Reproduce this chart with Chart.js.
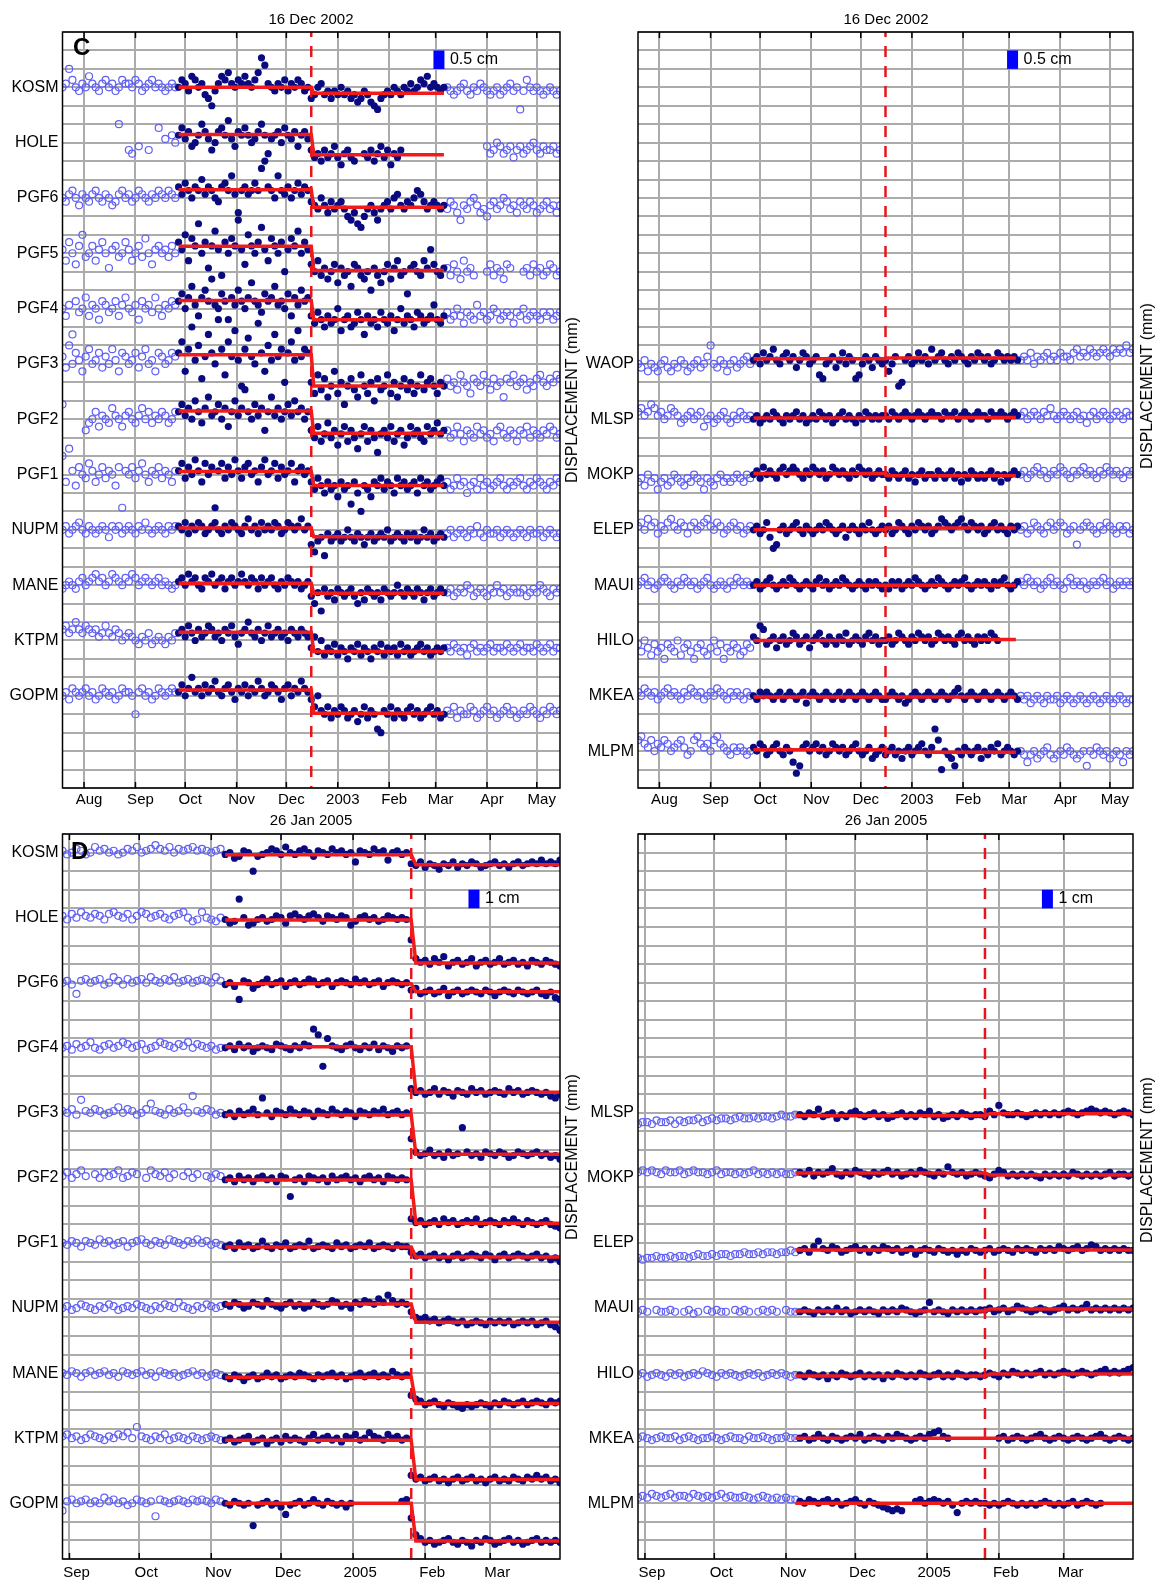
<!DOCTYPE html>
<html lang="en">
<head>
<meta charset="UTF-8"/>
<title>GPS displacement, 16 Dec 2002 and 26 Jan 2005</title>
<script src="https://cdn.jsdelivr.net/npm/chart.js"></script>
<style>
  body { margin: 0; background: #fff; font-family: "Liberation Sans", Arial, sans-serif; }
  #fig { position: relative; width: 1163px; height: 1584px; overflow: hidden; }
  canvas { position: absolute; }
  .txt { position: absolute; color: #000; white-space: nowrap; line-height: 1; }
  .ttl { font-size: 15px; transform: translateX(-50%); }
  .pnl { font-size: 24px; font-weight: bold; }
  .ylab { font-size: 16px; transform: translate(-50%, -50%) rotate(-90deg); }
</style>
</head>
<body>
<div id="fig">
  <canvas id="cl" width="580" height="812" style="left:0;top:0"></canvas>
  <canvas id="cr" width="593" height="812" style="left:570px;top:0"></canvas>
  <canvas id="dl" width="580" height="772" style="left:0;top:812px"></canvas>
  <canvas id="dr" width="593" height="772" style="left:570px;top:812px"></canvas>

  <div class="txt ttl" style="left:311px;top:11px">16 Dec 2002</div>
  <div class="txt ttl" style="left:886px;top:11px">16 Dec 2002</div>
  <div class="txt ttl" style="left:311px;top:812px">26 Jan 2005</div>
  <div class="txt ttl" style="left:886px;top:812px">26 Jan 2005</div>

  <div class="txt pnl" style="left:73px;top:35px">C</div>
  <div class="txt pnl" style="left:71px;top:839px">D</div>

  <div class="txt ylab" style="left:572px;top:400px">DISPLACEMENT (mm)</div>
  <div class="txt ylab" style="left:1147px;top:386px">DISPLACEMENT (mm)</div>
  <div class="txt ylab" style="left:572px;top:1157px">DISPLACEMENT (mm)</div>
  <div class="txt ylab" style="left:1147px;top:1160px">DISPLACEMENT (mm)</div>
</div>

<script>
  const FONT = '"Liberation Sans", Arial, sans-serif';
  const SAMPLE_DAYS = 2; // one value every 2 days, values in mm relative to the station's label

  // ---------- C: 16 Dec 2002 ----------
  const cStart = '2002-07-19';
  const cEnd = '2003-05-15';
  const cEvent = '2002-12-16';
  const cTickDates = ['2002-08-01', '2002-09-01', '2002-10-01', '2002-11-01', '2002-12-01',
    '2003-01-01', '2003-02-01', '2003-03-01', '2003-04-01', '2003-05-01'];
  const cTickLabels = ['Aug', 'Sep', 'Oct', 'Nov', 'Dec', '2003', 'Feb', 'Mar', 'Apr', 'May'];

  const clStations = ['KOSM', 'HOLE', 'PGF6', 'PGF5', 'PGF4', 'PGF3', 'PGF2', 'PGF1', 'NUPM', 'MANE', 'KTPM', 'GOPM'];
  const clBase = [0, -15, -30, -45, -60, -75, -90, -105, -120, -135, -150, -165];
  const clPre = [0, 2.2, 2.2, 1.9, 2.2, 2.5, 2.2, 0.8, 0.5, 0.5, 2.2, 1.6];
  const clPost = [-1.6, -3.3, -2.5, -4.7, -3.0, -6.0, -3.8, -3.0, -1.9, -2.2, -3.0, -4.7];

  const crStations = ['WAOP', 'MLSP', 'MOKP', 'ELEP', 'MAUI', 'HILO', 'MKEA', 'MLPM'];
  const crBase = [-75, -90, -105, -120, -135, -150, -165, -180];
  const crPre = [1.4, 0.3, 0.3, 0, 0, 0, -0.3, 0.4];
  const crPost = [1.6, 0.5, -0.3, 0.5, 0, 0.3, -0.3, -0.3];

  // each C series: 35 open (Jul 19-Sep 25), 40 campaign before event, 41 campaign after, 35 open (Mar 9-May 15)
  const clKOSM = [
    0,1,5,2,0,-1,1,0,3,1, 0,-1,1,2,0,1,-1,0,2,1, 1,0,2,1,-1,0,1,2,0,1, 0,-1,0,1,0,
    0,2,1,-1,3,2,0,1,-2,-3, -5,-1,1,3,2,4,1,0,2,1, 3,1,0,2,4,8,6,1,0,-1, 1,0,2,-1,1,0,2,1,-1,0,
    -3,-2,0,1,-2,-1,-3,-1,-2,0, -2,-1,-3,-2,-4,-3,-1,-2,-4,-5, -6,-3,-2,-1,-2,0,-1,-2,0,-1, 1,-1,0,2,1,3,0,1,0,-1,0,
    0,-1,-2,-1,0,1,-1,-2,0,-1, 1,0,-1,-2,-1,0,-2,-1,0,1, -1,0,-6,-1,2,0,-1,0,-1,-2, -1,0,-1,-2,-1
  ];
  const clHOLE = [
    null,null,null,null,null,null,null,null,null,null, null,null,null,null,null,null,null,5,null,null,
    -2,-3,null,-1,null,null,-2,null,null,4, null,1,null,2,0,
    2,4,1,3,-1,0,2,5,3,1, -2,0,3,4,2,6,1,-1,3,2, 4,2,0,1,3,5,2,-3,1,2, 3,0,4,2,1,3,-1,2,3,1,
    -2,-4,-3,-5,-2,-4,-3,-1,-4,-6, -3,-2,-4,-5,null,null,-3,-4,-2,-5, -3,-1,-4,-2,-6,-3,-4,-2,null,null,
    null,null,null,null,null,null,null,null,null,null,null,
    null,null,null,null,null,null,null,null,null,null,null,null,
    -1,-3,-2,0,-1,-3,-2,-1,-4,-2, -1,-3,-2,-1,0,-2,-3,-1,-2,-2, -1,-3,-2
  ];
  const clPGF6 = [
    0,-1,1,2,0,-2,1,0,-1,1, 2,0,-1,1,0,-2,-1,1,2,0, 1,-1,0,2,1,0,-1,1,0,2, 1,0,2,1,0,
    3,1,4,2,0,3,2,5,1,3, 2,0,-1,3,4,2,6,1,-4,2, 3,1,2,4,2,8,10,3,2,0, 6,2,1,3,0,2,4,1,3,2,
    -1,-2,-3,0,-2,-4,-1,-3,-2,-1, -3,-5,-6,-4,-7,-8,-5,-3,-2,-4, -6,-3,-2,-1,-3,0,1,-2,-3,-1, -2,0,2,1,-1,-3,-2,-1,-2,-3,-2,
    -3,-1,-2,-4,-6,-2,-3,-1,0,-2, -4,-3,-5,-2,-1,-3,-2,0,-1,-3, -2,-4,-1,-2,-3,-1,-2,-4,-3,-2, -1,-3,-2,-4,-2
  ];
  const clPGF5 = [
    1,-2,3,0,-3,2,5,-1,0,2, -2,1,3,0,-4,1,2,-1,0,3, 1,-2,0,2,-1,4,0,-3,1,2, 0,1,-1,2,0,
    3,1,5,-2,4,2,8,0,3,-4, 2,6,1,-6,3,0,4,2,9,1, -3,5,2,0,3,7,1,-2,4,2, 0,3,-5,1,4,2,6,0,3,1,
    -3,-5,-2,-6,-4,-7,-5,-3,-8,-4, -6,-5,-9,-3,-4,-6,-7,-5,-10,-4, -6,-8,-5,-3,-7,-4,-2,-6,-5,-11, -4,-3,-5,-6,-2,-4,1,-3,-5,-6,-4,
    -4,-6,-3,-5,-7,-2,-5,-4,-6,null, null,null,-5,-3,-6,-4,-5,-7,-3,-4, null,null,null,-5,-4,-6,-3,-5,-4,-6, -5,-3,-4,-6,-5
  ];
  const clPGF4 = [
    0,-2,1,-7,2,-1,0,3,-2,1, 0,-3,2,1,-1,0,2,-2,1,3, 0,-1,1,-3,2,0,1,-1,3,0, -2,1,0,2,1,
    2,4,0,3,6,1,-2,3,5,2, 8,1,0,4,2,-3,3,1,5,2, 0,3,7,2,1,-1,4,2,3,6, 1,2,0,4,-2,3,1,5,2,3,
    -2,-4,-1,-3,-5,-2,-4,-3,0,-6, -3,-2,-5,-4,-1,-3,-7,-2,-4,-3, -5,-1,-3,-4,-2,-6,-3,0,-4,-2, -3,-5,-1,-2,-4,-3,-2,1,-3,-4,-2,
    -1,-3,-2,0,-2,-4,-1,-2,-3,1, -2,-1,-3,-2,0,-1,-3,-2,-1,-2, -4,-1,-2,0,-3,-2,-1,-2,-3,-1, -2,-1,-3,-2,-1
  ];
  const clPGF3 = [
    2,-1,5,0,3,1,-2,2,4,0, 1,3,-1,2,0,4,1,-2,3,2, 0,1,3,-1,2,4,0,1,-2,3, 2,0,1,3,2,
    3,6,-2,4,10,1,5,-4,2,8, 3,0,12,4,-3,6,2,9,1,-6, 4,7,2,0,11,3,-2,5,1,8, 2,4,-5,3,6,1,9,2,4,3,
    -5,-8,-3,-7,-4,-9,-6,-2,-8,-5, -11,-6,-4,-7,-9,-3,-6,-8,-5,-10, -4,-7,-6,-3,-8,-5,-9,-6,-4,-7, -5,-8,-6,-3,-7,-5,-4,-6,-8,-5,-6,
    -4,-6,-5,-7,-3,-5,-6,-8,-4,-5, -6,-3,-5,-7,-4,-6,-5,-9,-4,-5, -3,-6,-5,-4,-7,-5,-6,-4,-3,-5, -6,-4,-5,-3,-4
  ];
  const clPGF2 = [
    4,null,null,null,null,null,null,-3,-1,0, 2,-2,1,0,-1,3,1,0,-2,1, 2,0,-1,1,3,0,2,-1,1,0, 2,1,-1,0,2,
    2,4,1,3,0,5,2,-1,3,6, 1,2,4,0,3,-2,2,5,1,3, 8,2,0,4,1,3,-3,2,6,1, 3,0,2,4,1,5,2,3,0,2,
    -3,-5,-2,-6,-4,-1,-5,-3,-7,-4, -2,-6,-3,-5,-8,-4,-2,-6,-3,-5, -9,-4,-3,-5,-2,-6,-4,-3,-7,-5, -2,-4,-3,-5,-6,-2,-4,-3,-1,-4,-3,
    -3,-5,-4,-2,-4,-6,-3,-4,-5,-2, -4,-3,-5,-4,-6,-3,-2,-4,-5,-3, -4,-6,-3,-4,-2,-5,-3,-4,-5,-3, -4,-2,-3,-5,-4
  ];
  const clPGF1 = [
    5,-2,7,1,-3,2,0,-1,3,1, -2,0,2,-1,1,0,-3,2,-9,1, 0,2,-1,1,3,0,-2,1,0,2, -1,1,0,-2,1,
    1,3,-1,2,0,4,1,-2,3,0, 2,-9,1,3,-1,2,0,4,1,-1, 2,3,0,1,-2,2,4,0,1,3, -1,2,0,1,3,-2,1,2,0,1,
    -2,-4,-1,-3,-5,-2,-4,-3,-6,-2, -4,-3,-8,-2,-5,-10,-3,-4,-6,-2, -3,-1,-4,-2,-3,-5,-1,-3,-2,-4, -3,-2,-5,-1,-3,-2,-4,-3,-2,-1,-3,
    -2,-4,-3,-1,-3,-2,-5,-3,-2,-4, -1,-3,-2,-4,-3,-2,-1,-3,-4,-2, -3,-2,-1,-3,-4,-2,-3,-1,-2,-3, -4,-2,-3,-1,-2
  ];
  const clNUPM = [
    0,1,-1,0,1,2,0,-1,1,0, -1,0,1,0,-2,1,0,1,-1,0, 1,0,-1,1,0,2,0,-1,0,1, 0,-1,1,0,1,
    1,0,2,-1,1,0,2,1,-1,0, 1,2,0,-1,1,0,2,1,0,-1, 1,3,0,1,-1,2,0,1,0,2, 1,-1,0,2,1,0,1,3,0,1,
    -4,-6,-3,-2,-7,-1,-3,-2,-1,-3, -2,0,-2,-3,-1,-2,-4,-2,-1,-3, -2,-1,-2,0,-3,-2,-1,-2,-3,-1, -2,-1,-3,-2,0,-2,-1,-3,-2,-1,-2,
    -1,0,-2,-1,0,-1,-2,0,-1,1, -1,-2,0,-1,-1,0,-2,-1,0,-1, -2,-1,0,-1,-2,0,-1,-1,0,-2, -1,0,-1,-2,-1
  ];
  const clMANE = [
    -1,0,1,0,-1,1,2,0,1,2, 3,1,2,0,1,3,2,1,0,2, 1,3,2,0,1,2,1,0,1,2, 0,1,0,-1,0,
    1,2,0,3,1,2,0,-1,2,1, 3,0,1,2,-1,1,2,0,1,3, 1,0,2,1,-1,2,0,1,2,0, -1,1,0,2,1,0,1,-1,0,1,
    -3,-5,-2,-7,-1,-3,-2,-4,-1,-2, -3,-2,-1,-3,-5,-2,-4,-1,-2,-3, -2,-4,-1,-2,-3,-2,0,-2,-3,-1, -2,-3,-1,-2,-4,-2,-1,-3,-2,-1,-2,
    -2,-1,-3,-2,-1,-2,0,-1,-3,-2, -1,-2,-3,-1,-2,0,-2,-1,-3,-2, -1,-2,-2,-1,-3,-2,-1,-2,0,-1, -2,-3,-1,-2,-1
  ];
  const clKTPM = [
    3,4,2,3,5,3,2,4,3,2, 3,1,2,4,2,1,3,2,0,1, 2,1,0,-1,1,0,2,-1,0,1, 0,-1,1,0,2,
    2,3,1,4,2,0,3,1,2,4, 3,1,2,0,3,2,4,1,-1,2, 3,5,2,1,3,0,2,4,1,2, 3,1,2,0,3,2,1,3,2,1,
    -2,1,-3,0,-4,-2,-3,-1,-4,-2, -3,-5,-2,-3,-1,-4,-2,-3,-5,-2, -3,-1,-4,-2,-3,-2,-4,-1,-3,-2, -4,-3,-2,-1,-3,-2,-4,-3,-2,-3,-2,
    -2,-3,-1,-2,-3,-2,-4,-2,-1,-3, -2,-3,-2,-1,-3,-2,-2,-3,-1,-2, -3,-2,-1,-3,-2,-2,-3,-1,-2,-3, -2,-1,-3,-2,-2
  ];
  const clGOPM = [
    0,1,-1,2,1,0,1,2,0,1, -1,0,2,1,0,1,-1,0,2,1, 1,0,-5,1,2,0,1,-1,0,2, 1,0,1,2,1,
    1,3,0,2,5,1,2,0,3,1, 2,4,1,0,2,3,1,-1,2,1, 3,0,2,1,4,2,0,1,3,2, 1,-1,2,3,0,2,1,4,2,1,
    -1,-3,0,-4,-5,-3,-6,-4,-5,-3, -4,-6,-5,-4,-7,-5,-3,-6,-4,-5, -9,-10,-4,-5,-3,-6,-4,-5,-6,-4, -3,-5,-4,-6,-5,-4,-3,-5,-4,-6,-5,
    -4,-5,-3,-6,-4,-5,-5,-3,-4,-6, -5,-4,-3,-5,-4,-6,-5,-4,-3,-5, -4,-6,-5,-4,-5,-3,-4,-5,-6,-4, -5,-3,-4,-5,-4
  ];

  const crWAOP = [
    0,-1,1,-2,0,-1,-2,0,1,-1, -2,0,-1,1,0,-2,-1,0,1,-1, 0,2,5,0,-1,1,0,-2,0,1, -1,0,1,2,0,
    1,2,0,3,1,2,4,1,0,2, 3,1,2,-1,1,3,2,0,1,2, -3,-4,0,1,2,-1,1,3,0,2, 1,-4,-3,0,2,1,-1,2,1,0,
    1,-2,0,2,-6,-5,1,2,0,1, 3,1,2,0,4,1,2,3,1,0, 2,1,3,2,1,0,2,1,3,2, 1,2,0,1,3,2,1,2,1,2,1,
    1,2,1,3,0,2,1,2,3,1, 2,1,3,2,2,1,3,4,2,3, 2,4,3,2,3,4,3,2,4,3, 4,3,5,3,4
  ];
  const crMLSP = [
    2,3,1,2,4,3,1,2,0,1, 3,2,1,-1,0,1,2,0,1,2, -2,0,1,-1,0,1,2,0,-1,1, 0,2,1,0,1,
    0,1,-1,0,1,0,2,1,0,-1, 1,0,1,2,0,1,-1,0,1,0, 2,1,0,1,-1,0,1,2,0,1, 0,-1,1,0,2,1,0,1,0,1,
    1,0,2,1,0,1,2,1,0,1, 2,1,0,1,2,1,1,0,2,1, 1,2,0,1,2,1,0,1,2,1, 1,0,2,1,1,2,1,0,1,2,1,
    1,2,0,1,2,1,0,2,1,3, 1,0,1,2,1,0,1,2,0,1, -1,1,2,0,1,2,1,0,1,2, 1,0,2,1,1
  ];
  const crMOKP = [
    -2,-1,-3,0,-2,-1,-4,-2,-1,-3, -2,0,-1,-2,-3,-1,-2,0,-1,-2, -4,-1,-2,-3,-1,0,-2,-1,-2,-1, 0,-1,-2,0,-1,
    0,1,-1,2,0,1,0,-1,1,2, 0,1,2,1,0,-1,1,0,2,1, 0,1,-1,0,2,1,0,1,0,-1, 1,0,2,1,0,1,-1,0,1,0,
    0,-1,1,0,-1,0,1,-1,0,-2, 0,1,-1,0,0,-1,1,0,-1,0, 1,-1,0,-2,0,-1,1,0,-1,0, -1,0,1,-1,0,-2,0,-1,0,1,0,
    0,1,-1,0,1,2,0,1,-1,0, 1,0,2,1,0,-1,1,0,1,2, 0,1,0,-1,1,0,2,1,0,1, 0,-1,1,0,1
  ];
  const crELEP = [
    1,2,0,3,1,2,-1,1,0,2, 3,1,0,2,1,-1,1,2,0,1, 2,3,1,0,2,1,-1,0,1,2, 0,1,-1,0,1,
    0,1,-1,0,2,-2,-5,-4,0,1, -1,0,1,2,0,-1,1,0,-1,0, 1,0,2,1,0,-1,0,1,-2,0, 1,0,-1,1,0,2,0,-1,0,1,
    0,1,-1,0,2,1,0,-1,1,0, 2,1,0,1,-1,0,1,3,2,1, 0,1,2,3,1,0,2,1,0,1, -1,0,1,2,0,1,0,-1,1,0,1,
    0,1,-1,0,2,1,0,-1,1,2, 0,1,2,1,-1,0,1,-4,0,1, 2,1,0,-1,1,0,2,1,0,-1, 1,0,1,-1,0
  ];
  const crMAUI = [
    0,1,2,0,1,-1,0,1,2,1, 0,-1,1,0,2,1,0,1,-1,0, 1,2,0,-1,0,1,0,-1,1,0, 2,1,0,1,0,
    0,1,-1,0,1,2,0,-1,0,1, 0,2,1,0,-1,0,1,0,-1,1, 2,0,1,-1,0,1,0,2,1,0, -1,0,1,0,-1,1,0,1,0,-1,
    0,-1,1,0,1,-1,0,1,0,2, 1,0,-1,0,1,0,2,1,0,-1, 0,1,0,1,2,0,-1,0,1,0, 1,0,-1,1,0,1,2,0,-1,0,1,
    1,0,2,1,0,1,-1,0,1,2, 0,1,0,-1,1,2,0,1,0,1, -1,0,1,0,1,2,0,1,-1,0, 1,0,1,0,1
  ];
  const crHILO = [
    -1,-3,0,-2,-4,-1,-3,-2,-5,-1, -2,-3,0,-4,-2,-1,-3,-5,-2,-1, -3,-4,-2,0,-3,-1,-5,-2,-3,-1, -2,-4,-3,-1,-2,
    1,0,4,3,-1,0,1,-2,0,1, -1,0,2,1,-1,0,1,-2,0,1, 2,0,-1,1,0,-1,1,0,2,-1, 0,1,0,-1,1,2,0,1,-1,0,
    0,1,-1,0,2,1,0,-1,1,0, 2,1,0,1,-1,0,2,1,0,1, 0,-1,1,2,0,1,0,-1,1,0, 1,0,2,1,0,null,null,null,null,null,null,
    null,null,null,null,null,null,null,null,null,null, null,null,null,null,null,null,null,null,null,null,
    null,null,null,null,null,null,null,null,null,null, null,null,null,null,null
  ];
  const crMKEA = [
    1,0,2,1,0,1,-1,0,1,2, 0,1,0,-1,1,0,2,1,0,1, -1,0,1,0,2,1,0,-1,1,0, 1,0,-1,1,0,
    0,-1,1,0,1,0,-1,0,1,-1, 0,1,0,-1,0,1,-2,0,1,0, -1,0,1,0,-1,0,1,-1,0,1, 0,-1,0,1,0,-1,0,1,0,-1,
    -1,0,1,0,-1,0,-2,-1,0,1, 0,-1,0,1,0,-1,0,1,0,-1, 0,1,2,0,-1,0,1,0,-1,0, 1,0,-1,0,1,0,-1,0,1,0,-1,
    0,-1,0,-2,-1,0,-1,-2,0,-1, -1,0,-2,-1,0,-1,-2,-1,0,-1, -2,-1,0,-1,-2,-1,0,-1,-2,-1, 0,-1,-2,-1,-1
  ];
  const crMLPM = [
    3,4,2,1,3,0,2,1,3,2, 0,1,2,3,1,-1,0,3,4,2, 1,2,0,3,4,2,1,0,-1,1, 0,1,0,-1,0,
    1,0,2,1,-1,0,1,2,0,-1, 1,0,-3,-6,-4,1,2,0,1,2, 0,1,-1,0,2,1,0,1,-1,0, 1,2,0,-1,0,1,-2,-1,0,1,
    -1,0,1,-1,0,-2,0,1,-1,0, 1,2,0,-1,1,6,3,-5,0,-1, -2,-4,0,-1,1,0,-1,0,1,-2, 0,-1,1,0,2,-1,0,1,0,-1,0,
    0,-1,-3,-1,0,-2,-1,0,1,-1, -2,-1,0,-1,1,0,-1,-2,-1,0, -4,0,-1,1,0,-1,0,-2,-1,0, -1,-3,0,-1,0
  ];

  // ---------- D: 26 Jan 2005 ----------
  const dStart = '2004-08-29';
  const dEnd = '2005-03-31';
  const dEvent = '2005-01-26';
  const dTickDates = ['2004-09-01', '2004-10-01', '2004-11-01', '2004-12-01', '2005-01-01', '2005-02-01', '2005-03-01'];
  const dTickLabels = ['Sep', 'Oct', 'Nov', 'Dec', '2005', 'Feb', 'Mar'];

  const dlStations = ['KOSM', 'HOLE', 'PGF6', 'PGF4', 'PGF3', 'PGF2', 'PGF1', 'NUPM', 'MANE', 'KTPM', 'GOPM'];
  const dlBase = [0, -35, -70, -105, -140, -175, -210, -245, -280, -315, -350];
  const dlPre = [-1.2, -1.2, -0.5, 0.5, -1.1, -1.1, -2.2, 2.2, -2.2, -1.1, 0];
  const dlPost = [-6.6, -24.4, -4.9, -23.9, -22.3, -24.4, -7.6, -7.6, -16.3, -22.3, -20.3];

  const drStations = ['MLSP', 'MOKP', 'ELEP', 'MAUI', 'HILO', 'MKEA', 'MLPM'];
  const drBase = [-140, -175, -210, -245, -280, -315, -350];
  const drPre = [-1.6, 2.7, -3.8, -1.6, -1.6, 0, 0];
  const drPost = [-0.5, 1.6, -3.8, -0.5, -0.5, 0, 0];

  // each D series: 35 open (Aug 29-Nov 5), 40 campaign before event, 33 campaign after (to Mar 31)
  const dlKOSM = [
    1,-1,0,2,1,-1,0,3,1,2, 0,1,-1,0,2,1,3,0,1,2, 4,2,1,3,0,2,1,2,3,1, 2,1,0,1,2,
    -1,0,-3,-2,1,0,-10,-2,-1,0, 2,1,-1,3,0,-1,1,2,0,-2, 1,0,-1,2,0,1,-1,0,-5,1, 0,-1,2,0,1,-4,0,1,-1,0,
    -6,-7,-5,-8,-6,-7,-9,-6,-7,-5, -8,-6,-7,-5,-6,-8,-7,-6,-5,-7, -6,-8,-6,-5,-7,-6,-5,-6,-4,-6, -5,-6,-4
  ];
  const dlHOLE = [
    1,-1,2,0,3,1,0,2,1,-1, 2,3,1,0,2,-1,1,3,2,0, 1,2,0,-1,1,2,3,0,-2,-1, 3,0,-1,-2,0,
    -1,-3,-2,10,0,-4,-3,-1,0,-2, -1,1,0,-3,1,2,0,-1,1,2, 0,-2,1,0,-1,1,0,-4,-2,0, 1,-1,0,-2,-1,1,0,-1,0,-1,
    -12,-22,-24,-23,-25,-22,-24,-21,-26,-24, -23,-25,-24,-22,-26,-24,-23,-25,-24,-22, -25,-24,-23,-25,-24,-26,-23,-24,-25,-23, -24,-25,-26
  ];
  const dlPGF6 = [
    0,1,-1,-6,1,2,0,1,2,-1, 0,3,1,-1,2,0,1,2,0,3, 1,0,2,1,3,0,1,2,0,1, 2,1,0,3,1,
    -1,0,-2,-9,1,0,-3,-1,0,2, -1,0,1,-2,0,1,-1,0,2,1, -1,0,1,-2,0,1,0,-1,2,0, 1,-1,0,1,-2,0,1,0,-1,0,
    -4,-3,-6,-5,-4,-6,-5,-3,-7,-5, -4,-6,-5,-4,-5,-6,-4,-5,-7,-5, -4,-5,-6,-4,-5,-6,-5,-4,-6,-7, -5,-8,-9
  ];
  const dlPGF4 = [
    0,1,-1,2,0,1,3,0,-1,1, 2,0,1,3,2,0,1,2,-1,0, 1,3,2,1,0,2,1,3,0,2, 1,0,1,-1,0,
    0,1,-1,2,0,1,-2,0,1,0, -1,2,1,0,-1,1,0,2,1,10, 7,-10,5,1,0,-1,1,2,0,-1, 1,0,2,-1,1,0,-2,1,0,1,
    -22,-24,-23,-25,-24,-22,-25,-23,-24,-26, -23,-24,-25,-22,-24,-23,-25,-24,-23,-24, -25,-22,-24,-23,-25,-24,-23,-24,-25,-24, -26,-27,-25
  ];
  const dlPGF3 = [
    1,0,2,-1,7,1,0,2,1,-1, 0,1,3,0,2,1,-1,0,2,5, 1,0,-1,2,0,1,3,0,9,1, 0,2,1,-1,0,
    -1,0,-2,1,-1,0,2,-1,8,0, -2,1,0,-1,2,0,-1,1,0,-2, 1,0,-1,2,0,-1,1,0,-2,1, 0,-1,1,0,2,-1,0,1,-1,0,
    -14,-21,-23,-22,-20,-23,-22,-24,-21,-23, -22,-8,-21,-23,-22,-24,-21,-22,-23,-21, -22,-24,-23,-21,-22,-23,-22,-21,-23,-22, -24,-23,-25
  ];
  const dlPGF2 = [
    1,3,0,2,4,1,null,2,0,3, 1,2,4,0,1,3,2,null,0,4, 2,1,3,0,2,null,1,3,0,2, null,1,0,2,1,
    -1,0,-2,1,-1,0,-2,0,1,-1, 0,-2,1,0,-10,-1,0,-2,1,0, -1,0,-2,1,-1,0,1,-1,0,-2, 0,1,-1,0,-2,1,0,-1,0,-1,
    -22,-24,-23,-25,-24,-23,-25,-22,-24,-23, -25,-24,-23,-24,-22,-25,-24,-23,-24,-25, -23,-24,-22,-24,-25,-23,-24,-25,-24,-23, -25,-26,-27
  ];
  const dlPGF1 = [
    0,-1,1,0,-2,1,0,-1,2,0, 1,-1,0,1,-2,0,1,2,0,-1, 1,0,-1,2,1,0,-1,1,0,2, 0,1,-1,0,-1,
    -2,-1,-3,0,-2,-1,-3,-2,1,-2, -3,-1,-2,0,-3,-2,-1,-2,1,-3, -2,-1,-2,-3,0,-2,-1,-3,-2,-1, -2,0,-3,-2,-1,-2,-3,-1,-2,-2,
    -5,-7,-6,-8,-7,-6,-8,-7,-9,-7, -6,-8,-7,-6,-7,-8,-6,-7,-9,-7, -6,-8,-7,-6,-7,-8,-7,-6,-8,-7, -9,-8,-10
  ];
  const dlNUPM = [
    0,1,-1,0,2,1,0,-1,1,0, 2,1,-1,0,1,0,2,1,0,-1, 1,0,2,1,0,3,1,0,-1,1, 0,2,1,0,1,
    2,1,3,2,0,1,3,2,1,4, 2,1,0,2,3,1,2,0,1,3, 2,1,2,4,3,1,2,0,3,2, 4,3,2,5,3,7,4,2,3,2,
    -2,-5,-6,-5,-7,-6,-8,-7,-6,-7, -8,-7,-9,-8,-7,-8,-9,-7,-8,-7, -8,-7,-9,-8,-7,-8,-7,-9,-8,-7, -9,-10,-12
  ];
  const dlMANE = [
    0,-1,1,0,-2,0,1,-1,0,1, -1,0,-2,1,0,-1,0,1,-1,0, -2,1,0,-1,0,-2,-1,0,1,-1, 0,-2,-1,0,-1,
    -2,-3,-1,-2,-4,-2,-1,-3,-2,0, -2,-1,-3,-2,-1,-2,0,-1,-2,-3, -1,-2,-1,0,-2,-1,-3,-2,-1,0, -2,-1,0,-2,-1,-2,1,-1,-2,-1,
    -12,-14,-15,-17,-16,-15,-17,-18,-16,-17, -18,-19,-17,-18,-17,-16,-17,-18,-16,-17, -15,-16,-17,-16,-15,-17,-16,-15,-16,-17, -15,-16,-15
  ];
  const dlKTPM = [
    1,2,0,1,-1,0,2,1,0,-1, 1,0,2,1,3,0,6,1,0,-1, 1,0,2,-1,0,1,0,-1,1,0, -1,0,1,0,-1,
    -1,0,-2,-1,0,1,-2,-1,0,-3, -1,0,-2,1,-1,0,-1,-2,0,2, -1,0,1,-1,0,-2,1,0,2,-1, 0,3,1,0,-1,2,0,1,-1,0,
    -20,-22,-21,-23,-22,-21,-23,-22,-24,-22, -21,-23,-22,-21,-23,-22,-24,-22,-21,-23, -22,-23,-21,-22,-23,-21,-22,-20,-22,-21, -23,-22,-24
  ];
  const dlGOPM = [
    -4,1,2,0,1,2,0,1,0,3, 1,2,0,1,-1,0,2,1,0,1, -7,2,1,0,1,2,1,0,2,1, 2,1,0,2,1,
    0,-1,1,0,-1,0,-12,-1,0,1, -1,0,-2,-6,-1,0,1,-1,0,2, 0,-1,1,0,-1,0,-2,0,null,null, null,null,null,null,null,null,null,null,1,2,
    -8,-17,-19,-21,-20,-22,-21,-20,-19,-21, -22,-20,-21,-23,-20,-21,-19,-20,-22,-21, -20,-19,-21,-20,-22,-21,-20,-19,-21,-20, -21,-20,-21
  ];

  const drMLSP = [
    -6,-5,-5,-6,-4,-5,-5,-4,-6,-4, -5,-4,-4,-3,-5,-4,-3,-4,-3,-3, -4,-3,-2,-3,-3,-2,-3,-2,-2,-3, -2,-1,-2,-2,-1,
    -1,-2,0,-1,2,-2,-1,0,-3,-1, -2,0,1,-1,-2,-1,0,-2,-1,-3, -2,-1,0,-2,-1,-2,0,-1,1,-2, -1,-3,-2,-1,-2,0,-1,-2,-1,-1,
    -2,1,-1,4,0,-1,-1,0,-1,-2, -1,0,-1,0,-1,0,-1,0,1,0, -1,0,1,2,1,0,1,0,-1,0, 1,0,-1
  ];
  const drMOKP = [
    3,4,3,4,3,2,4,3,3,4, 2,3,4,3,3,2,3,4,2,3, 3,2,3,2,3,4,2,3,2,3, 2,3,2,2,3,
    3,2,4,1,3,2,3,5,2,1, 3,2,4,3,2,1,3,2,3,4, 2,3,1,2,3,2,4,3,2,1, 3,2,6,3,2,3,1,2,3,2,
    1,0,2,4,3,1,2,1,2,1, 2,1,0,2,1,2,1,2,1,3, 2,1,2,1,2,1,2,3,1,2, 2,1,2
  ];
  const drELEP = [
    -8,-9,-8,-8,-7,-8,-8,-7,-8,-7, -7,-8,-7,-6,-7,-7,-6,-7,-6,-6, -7,-6,-6,-5,-6,-6,-5,-6,-5,-5, -6,-5,-5,-4,-5,
    -4,-3,-5,-2,1,-3,-4,-2,-3,-5, -4,-3,-2,-4,-3,-5,-3,-4,-2,-3, -4,-3,-5,-4,-3,-6,-4,-3,-4,-5, -3,-4,-5,-4,-6,-4,-5,-3,-4,-5,
    -4,-3,-5,-4,-3,-4,-5,-3,-4,-3, -4,-5,-3,-4,-3,-4,-2,-3,-4,-3, -2,-4,-3,-1,-2,-4,-3,-4,-3,-4, -3,-4,-4
  ];
  const drMAUI = [
    -2,-1,-2,null,-1,-2,-2,-1,-2,null, -2,-1,-3,-2,null,-1,-2,-1,-2,-2, null,-1,-2,-1,-2,null,-2,-1,-2,-1, -2,null,-1,-2,-2,
    -2,-1,-2,-3,-1,-2,-1,-2,0,-2, -1,-3,-2,-1,-2,-1,-2,-3,-1,-2, -1,-2,0,-1,-2,-3,-2,-1,3,-2, -1,-2,-3,-1,-2,-1,-2,-1,-2,-1,
    -1,0,-2,-1,0,-2,-1,1,0,-1, -2,-1,0,-1,-2,-1,0,1,-1,0, -1,0,2,-1,0,-1,0,-1,0,-1, 0,-1,0
  ];
  const drHILO = [
    -1,0,-2,-1,0,-1,-2,0,-1,0, -2,-1,0,-1,1,0,-1,-2,0,-1, 0,-1,-2,-1,0,-1,0,-2,-1,0, -1,0,-1,-2,-1,
    -1,-2,0,-1,-2,-1,-3,-1,-2,0, -1,-2,-1,0,-2,-1,-2,-1,-3,-1, -2,0,-1,-2,-1,-2,0,-1,-2,-1, 0,-2,-1,-2,0,-1,-2,-1,-1,-2,
    -1,0,-1,-2,0,-1,1,0,-1,0, -1,0,1,-1,0,-1,0,1,0,-1, 0,1,0,-1,0,1,2,0,1,0, 1,2,3
  ];
  const drMKEA = [
    0,1,0,-1,0,1,0,0,1,-1, 0,1,0,-1,0,0,1,0,-1,0, 1,0,0,-1,1,0,0,1,0,-1, 0,0,1,0,0,
    0,1,-1,0,2,0,-1,1,0,-1, 0,1,0,2,-1,0,1,0,-1,1, 0,2,1,0,-1,0,1,0,2,3, 4,1,0,null,null,null,null,null,null,null,
    null,null,null,0,1,-1,0,1,0,-1, 0,1,2,0,-1,0,1,0,-1,0, 1,0,-1,0,1,2,0,-1,0,1, 0,-1,0
  ];
  const drMLPM = [
    3,4,3,5,4,3,4,5,3,4, 4,3,5,4,3,4,3,4,5,3, 4,3,3,4,3,2,3,4,3,2, 3,2,3,2,2,
    1,0,2,1,0,1,2,0,1,-1, 0,1,2,0,-1,1,0,-1,-2,-3, -4,-3,-4,null,null,1,2,0,1,2, 1,0,1,-1,-5,0,1,0,1,0,
    0,-1,0,-1,0,1,0,-1,0,-1, 0,-1,0,1,0,-1,0,-1,0,1, -1,0,1,0,-1,0,null,null,null,null, null,null,null
  ];

  // ---------- drawing ----------
  const OPEN_COLOR = '#6060f4';
  const DOT_COLOR = '#0a0a80';
  const FIT_COLOR = '#f01c1c';
  const GRID_COLOR = '#ababab';

  function dayOf(start, date) {
    return (Date.parse(date + 'T00:00:00Z') - Date.parse(start + 'T00:00:00Z')) / 864e5;
  }

  // black box, inward month ticks and the scale-bar caption
  const framePlugin = {
    id: 'frame',
    afterDraw(chart, args, opts) {
      const { ctx, chartArea: a, scales: { x, y } } = chart;
      ctx.save();
      ctx.strokeStyle = '#000';
      ctx.lineWidth = 1.5;
      ctx.strokeRect(a.left, a.top, a.right - a.left, a.bottom - a.top);
      ctx.beginPath();
      x.ticks.forEach(t => {
        const px = x.getPixelForValue(t.value);
        ctx.moveTo(px, a.bottom); ctx.lineTo(px, a.bottom - 6);
        ctx.moveTo(px, a.top); ctx.lineTo(px, a.top + 6);
      });
      ctx.stroke();
      ctx.fillStyle = '#000';
      ctx.font = '16px ' + FONT;
      ctx.textBaseline = 'middle';
      ctx.fillText(opts.label, x.getPixelForValue(opts.day) + 11, y.getPixelForValue((opts.lo + opts.hi) / 2));
      ctx.restore();
    }
  };

  function makePanel(id, p) {
    const datasets = [];
    const ev = dayOf(p.start, p.event);
    p.stations.forEach((name, s) => {
      const base = p.base[s];
      const open = [], dots = [];
      p.series[s].forEach((v, i) => {
        if (v === null) return;
        const pt = { x: i * SAMPLE_DAYS, y: base + v };
        (i >= p.campaign[0] && i <= p.campaign[1] ? dots : open).push(pt);
      });
      datasets.push({ data: open, order: 4, pointRadius: 3.5, pointBorderWidth: 1.2,
        pointBorderColor: OPEN_COLOR, pointBackgroundColor: 'rgba(0,0,0,0)' });
      datasets.push({ data: dots, order: 3, pointRadius: 3.6, pointBorderWidth: 0,
        pointBorderColor: DOT_COLOR, pointBackgroundColor: DOT_COLOR });
      datasets.push({
        data: [
          { x: dayOf(p.start, p.fitFrom), y: base + p.pre[s] },
          { x: ev, y: base + p.pre[s] },
          { x: ev + p.stepDays, y: base + p.post[s] },
          { x: dayOf(p.start, p.fitTo), y: base + p.post[s] }
        ],
        order: 1, showLine: true, borderColor: FIT_COLOR, borderWidth: 3.5, pointRadius: 0
      });
    });
    // earthquake date
    datasets.push({ data: [{ x: ev, y: p.yMax }, { x: ev, y: p.yMin }], order: 2, showLine: true,
      borderColor: '#e8141c', borderWidth: 2.5, borderDash: [11, 9], borderDashOffset: 6, pointRadius: 0 });
    // scale bar
    const barDay = dayOf(p.start, p.bar.date);
    datasets.push({ data: [{ x: barDay, y: p.bar.lo }, { x: barDay, y: p.bar.hi }], order: 0, showLine: true,
      borderColor: '#0000ff', borderWidth: 11, borderCapStyle: 'butt', pointRadius: 0 });

    const xTicks = p.tickDates.map(d => dayOf(p.start, d));
    const names = {};
    p.stations.forEach((n, s) => { names[p.base[s]] = n; });
    const yTicks = [];
    for (let v = p.yMin; v <= p.yMax; v += p.yStep) yTicks.push(v);
    p.base.forEach(b => { if (!yTicks.includes(b)) yTicks.push(b); });
    yTicks.sort((a, b) => a - b);

    new Chart(document.getElementById(id), {
      type: 'scatter',
      data: { datasets },
      options: {
        responsive: false,
        animation: false,
        events: [],
        layout: { padding: { top: p.padTop, right: p.padRight, left: 0, bottom: 0 }, autoPadding: false },
        plugins: {
          legend: { display: false },
          tooltip: { enabled: false },
          frame: { label: p.bar.label, day: barDay, lo: p.bar.lo, hi: p.bar.hi }
        },
        scales: {
          x: {
            type: 'linear',
            min: 0,
            max: dayOf(p.start, p.end),
            afterBuildTicks: sc => { sc.ticks = xTicks.map(v => ({ value: v })); },
            afterFit: sc => { sc.height = p.xHeight; },
            border: { display: false },
            grid: { color: GRID_COLOR, lineWidth: 2, drawTicks: false },
            ticks: { autoSkip: false, maxRotation: 0, padding: p.xPad, labelOffset: p.xLabelShift, color: '#000',
              font: { family: FONT, size: 15 }, callback: (v, i) => p.tickLabels[i] }
          },
          y: {
            type: 'linear',
            min: p.yMin,
            max: p.yMax,
            afterBuildTicks: sc => { sc.ticks = yTicks.map(v => ({ value: v })); },
            afterFit: sc => { sc.width = p.yWidth; },
            border: { display: false },
            grid: {
              lineWidth: 2, drawTicks: false,
              color: c => (c.tick && c.tick.value % p.yStep === 0) ? GRID_COLOR : 'rgba(0,0,0,0)'
            },
            ticks: { autoSkip: false, padding: 4, color: '#000',
              font: { family: FONT, size: 16 }, callback: v => names[v] || '' }
          }
        }
      },
      plugins: [framePlugin]
    });
  }

  const cCommon = {
    start: cStart, end: cEnd, event: cEvent, tickDates: cTickDates, tickLabels: cTickLabels,
    yMin: -190, yMax: 15, yStep: 5, campaign: [35, 115], stepDays: 1.5,
    fitFrom: '2002-09-27', bar: { date: '2003-03-03', lo: 5, hi: 10, label: '0.5 cm' },
    padTop: 32, xHeight: 24, xPad: 3, xLabelShift: 5
  };
  const dCommon = {
    start: dStart, end: dEnd, event: dEvent, tickDates: dTickDates, tickLabels: dTickLabels,
    yMin: -380, yMax: 10, yStep: 10, campaign: [35, 107], stepDays: 2,
    fitTo: '2005-03-31', bar: { date: '2005-02-22', lo: -30, hi: -20, label: '1 cm' },
    padTop: 22, xHeight: 25, xPad: 5, xLabelShift: 7
  };

  makePanel('cl', Object.assign({}, cCommon, {
    stations: clStations, base: clBase, pre: clPre, post: clPost, fitTo: '2003-03-06',
    series: [clKOSM, clHOLE, clPGF6, clPGF5, clPGF4, clPGF3, clPGF2, clPGF1, clNUPM, clMANE, clKTPM, clGOPM],
    padRight: 20, yWidth: 62.5
  }));
  makePanel('cr', Object.assign({}, cCommon, {
    stations: crStations, base: crBase, pre: crPre, post: crPost, fitTo: '2003-03-05',
    series: [crWAOP, crMLSP, crMOKP, crELEP, crMAUI, crHILO, crMKEA, crMLPM],
    padRight: 30, yWidth: 68
  }));
  makePanel('dl', Object.assign({}, dCommon, {
    stations: dlStations, base: dlBase, pre: dlPre, post: dlPost, fitFrom: '2004-11-07',
    series: [dlKOSM, dlHOLE, dlPGF6, dlPGF4, dlPGF3, dlPGF2, dlPGF1, dlNUPM, dlMANE, dlKTPM, dlGOPM],
    padRight: 20, yWidth: 62.5
  }));
  makePanel('dr', Object.assign({}, dCommon, {
    stations: drStations, base: drBase, pre: drPre, post: drPost, fitFrom: '2004-11-05',
    series: [drMLSP, drMOKP, drELEP, drMAUI, drHILO, drMKEA, drMLPM],
    padRight: 30, yWidth: 68
  }));
</script>
</body>
</html>
